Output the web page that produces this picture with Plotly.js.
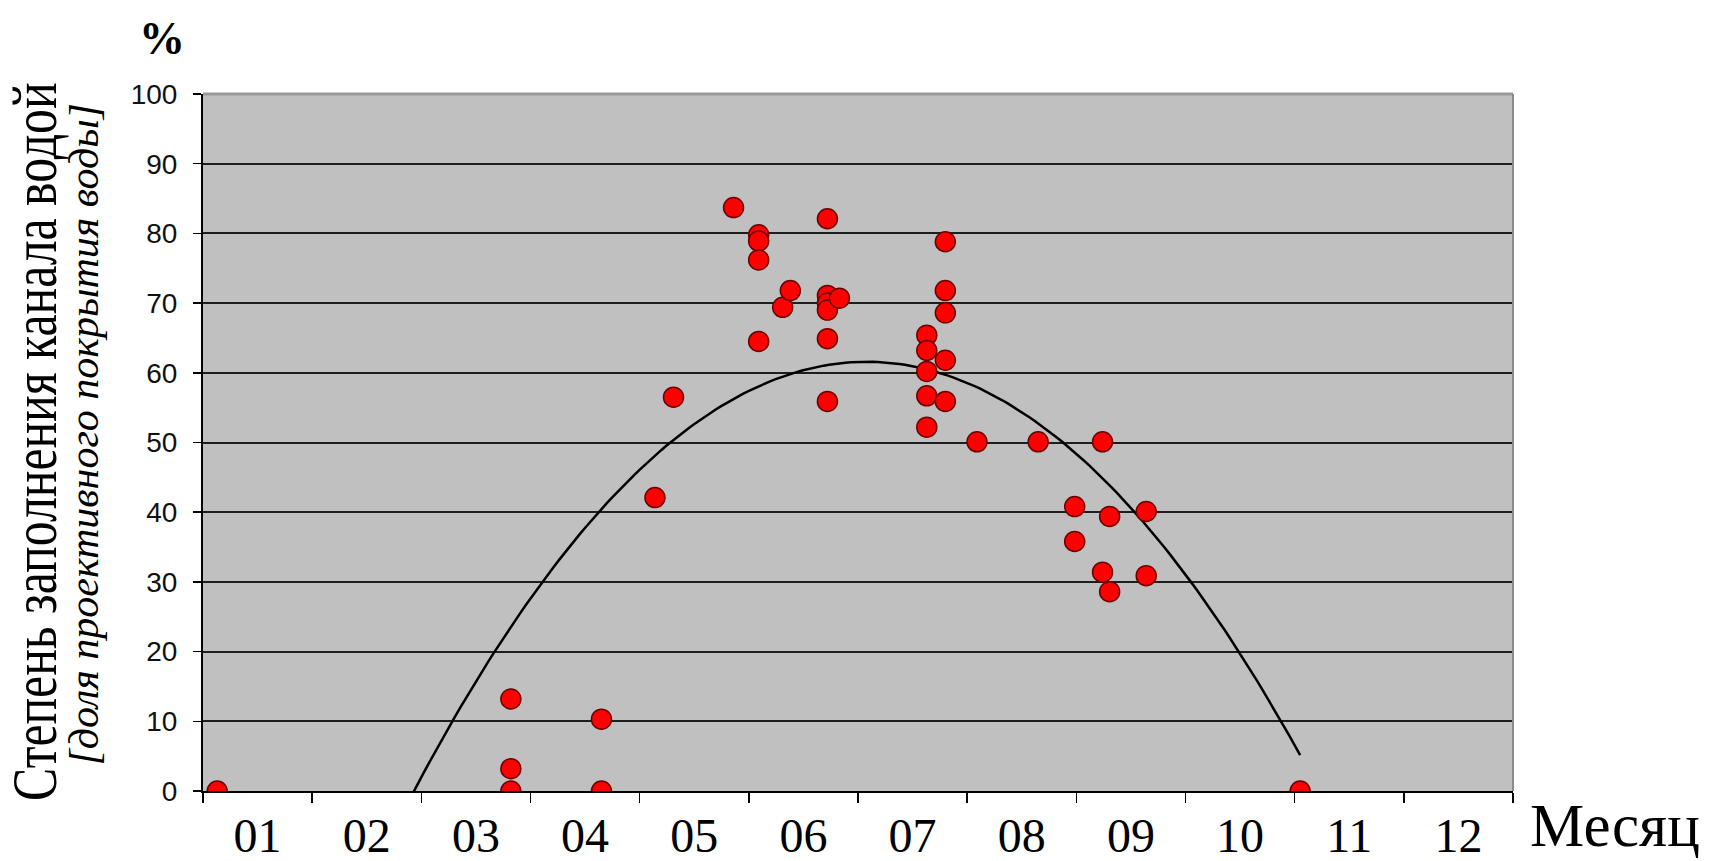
<!DOCTYPE html>
<html>
<head>
<meta charset="utf-8">
<script src="https://cdn.plot.ly/plotly-3.0.1.min.js"></script>
<style>
html,body{margin:0;padding:0;background:#fff;}
#chart{width:1720px;height:861px;}
.condensed{transform-box:fill-box;transform-origin:center;transform:scaleX(0.79);}
</style>
</head>
<body>
<div id="chart"></div>
<script>
// Month position (0 = start of January, 12 = end of December)
const monthPos = [0.13, 2.82, 2.82, 2.82, 3.65, 3.65, 4.14, 4.31, 4.86, 5.09, 5.09, 5.09, 5.09, 5.31, 5.38,
  5.72, 5.72, 5.72, 5.72, 5.83, 5.72, 5.72, 6.63, 6.63, 6.63, 6.63, 6.63, 6.80, 6.80, 6.80, 6.80, 6.80,
  7.09, 7.65, 8.24, 7.985, 8.305, 8.64, 7.985, 8.24, 8.64, 8.305, 10.05];
// Degree of channel filling with water, %
const fillPct = [0, 13.2, 3.2, 0, 10.3, 0, 42.1, 56.5, 83.7, 79.8, 78.9, 76.2, 64.5, 69.4, 71.8,
  82.1, 71.1, 70.0, 69.0, 70.7, 64.9, 55.9, 65.4, 63.2, 60.2, 56.7, 52.2, 78.8, 71.8, 68.6, 61.8, 55.9,
  50.1, 50.1, 50.1, 40.8, 39.4, 40.1, 35.8, 31.4, 30.9, 28.6, 0];
// Polynomial (2nd order) trendline coefficients: y = a*x^2 + b*x + c
const trendCoef = [-3.58, 43.53, -70.74];
const monthTickVals = [0.5, 1.5, 2.5, 3.5, 4.5, 5.5, 6.5, 7.5, 8.5, 9.5, 10.5, 11.5];
const monthLabels = ['01', '02', '03', '04', '05', '06', '07', '08', '09', '10', '11', '12'];
const monthBounds = [0, 1, 2, 3, 4, 5, 6, 7, 8, 9, 10, 11, 12];

const xMin = Math.min(...monthPos), xMax = Math.max(...monthPos);
const tx = [], ty = [];
for (let i = 0; i <= 200; i++) {
  const x = xMin + (xMax - xMin) * i / 200;
  tx.push(x);
  ty.push(trendCoef[0] * x * x + trendCoef[1] * x + trendCoef[2]);
}

const traces = [
  {x: tx, y: ty, type: 'scatter', mode: 'lines', line: {color: '#000', width: 2.5}, hoverinfo: 'skip'},
  {x: monthPos, y: fillPct, type: 'scatter', mode: 'markers',
   marker: {color: '#ff0000', size: 20, line: {color: '#6b0000', width: 1.5}}}
];

const layout = {
  width: 1720, height: 861,
  margin: {l: 203, r: 207, t: 94, b: 70},
  paper_bgcolor: '#ffffff', plot_bgcolor: '#c0c0c0',
  showlegend: false,
  xaxis: {
    range: [0, 12], fixedrange: true,
    tickmode: 'array', tickvals: monthTickVals, ticktext: monthLabels,
    ticks: '', showgrid: false, zeroline: false,
    showline: true, linecolor: '#000', linewidth: 2,
    tickfont: {family: 'Liberation Serif, Times New Roman, serif', size: 48, color: '#000'},
    ticklabelstandoff: 1,
    minor: {tickmode: 'array', tickvals: monthBounds, ticks: 'outside', ticklen: 10, tickcolor: '#000', tickwidth: 1.5, showgrid: false}
  },
  yaxis: {
    range: [0, 100], fixedrange: true,
    tickmode: 'linear', tick0: 0, dtick: 10,
    ticks: 'outside', ticklen: 8, tickcolor: '#000', tickwidth: 1.5,
    showgrid: true, gridcolor: '#1e1e1e', gridwidth: 2,
    zeroline: false, showline: true, linecolor: '#000', linewidth: 2,
    tickfont: {family: 'Liberation Sans, Arial, sans-serif', size: 28, color: '#111'},
    ticklabelstandoff: 10
  },
  shapes: [
    {type: 'line', xref: 'paper', yref: 'paper', x0: 0, x1: 1, y0: 1, y1: 1, line: {color: '#9a9a9a', width: 3}, layer: 'above'},
    {type: 'line', xref: 'paper', yref: 'paper', x0: 1, x1: 1, y0: 0, y1: 1, line: {color: '#8a8a8a', width: 2}, layer: 'above'}
  ],
  annotations: [
    {text: 'Степень заполнения канала водой', xref: 'paper', yref: 'paper', x: -0.128, y: 0.502,
     xanchor: 'center', yanchor: 'middle', textangle: -90, showarrow: false,
     font: {family: 'Liberation Serif, Times New Roman, serif', size: 63, color: '#000'}},
    {text: '[доля проективного покрытия воды]', xref: 'paper', yref: 'paper', x: -0.0905, y: 0.512,
     xanchor: 'center', yanchor: 'middle', textangle: -90, showarrow: false,
     font: {family: 'Liberation Serif, Times New Roman, serif', size: 42, style: 'italic', color: '#000'}},
    {text: '<b>%</b>', xref: 'paper', yref: 'paper', x: -0.0313, y: 1.080,
     xanchor: 'center', yanchor: 'middle', showarrow: false,
     font: {family: 'Liberation Serif, Times New Roman, serif', size: 46, color: '#000'}},
    {text: 'Месяц', xref: 'paper', yref: 'paper', x: 1.0775, y: -0.0488,
     xanchor: 'center', yanchor: 'middle', showarrow: false,
     font: {family: 'Liberation Serif, Times New Roman, serif', size: 61, color: '#000'}}
  ]
};

Plotly.newPlot('chart', traces, layout, {staticPlot: true, displayModeBar: false}).then(function () {
  const t = document.querySelectorAll('.annotation-text');
  if (t.length) t[0].classList.add('condensed');
});
</script>
</body>
</html>
